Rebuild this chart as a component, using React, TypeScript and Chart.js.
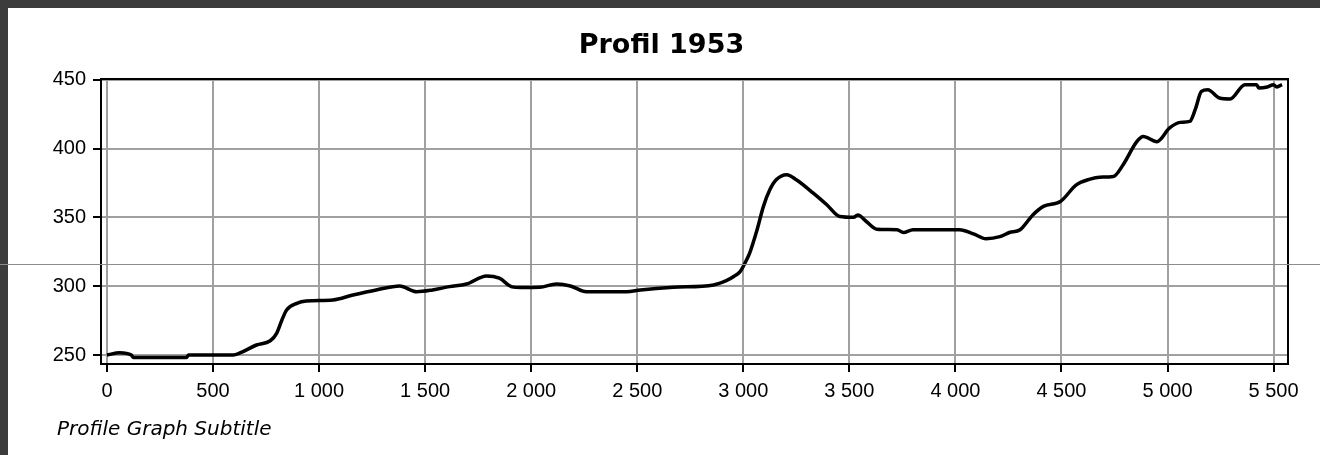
import React, { useEffect, useRef } from "react";
import { Chart, registerables } from "chart.js";

Chart.register(...registerables);

const titleText = "Profil 1953";
const subtitleText = "Profile Graph Subtitle";

const distances = [
  0, 60, 115, 125, 375, 385, 595, 630, 705, 770, 800, 825, 847, 895, 940, 1065,
  1160, 1270, 1380, 1460, 1535, 1615, 1695, 1790, 1850, 1910, 1950, 2040, 2120,
  2185, 2260, 2450, 2515, 2670, 2860, 2920, 2955, 2985, 3015, 3030, 3065, 3095,
  3125, 3155, 3205, 3250, 3330, 3395, 3455, 3520, 3540, 3580, 3630, 3725, 3755,
  3800, 4020, 4085, 4145, 4210, 4255, 4305, 4365, 4415, 4495, 4570, 4635, 4680,
  4745, 4790, 4855, 4885, 4950, 5010, 5060, 5105, 5130, 5160, 5190, 5245, 5295,
  5365, 5420, 5430, 5470, 5500, 5515, 5540,
];

const elevations = [
  250, 251.7, 250, 248.3, 248.3, 250, 250, 251.7, 257.3, 260.4, 265.8, 275.5,
  282.7, 287.6, 289.3, 290, 293.6, 297.3, 300.2, 296, 297.3, 299.7, 301.6, 307.5,
  305.8, 299.5, 299, 299.2, 301.6, 300.2, 296, 296, 297.3, 299.2, 300.9, 304, 307,
  310.6, 319, 324, 341, 358, 370, 377.3, 381, 377.3, 367.6, 359, 350.6, 350,
  351.8, 347, 341.4, 341, 339, 341, 341, 338, 334.5, 336, 339, 341, 351.8, 358,
  361.5, 373.6, 377.8, 379.2, 379.7, 388, 405, 408.8, 405, 415, 419, 419.7, 428,
  441.5, 442.7, 436.7, 436, 446.4, 446.4, 444, 444.7, 446.4, 444.7, 446.4,
];

const xTicks = [0, 500, 1000, 1500, 2000, 2500, 3000, 3500, 4000, 4500, 5000, 5500];
const yTicks = [250, 300, 350, 400, 450];

const fmt = (v: number) => String(v).replace(/\B(?=(\d{3})+(?!\d))/g, " ");
const tickFont = { family: '"Liberation Sans", Arial, sans-serif', size: 20 };

export default function App() {
  const canvasRef = useRef<HTMLCanvasElement | null>(null);

  useEffect(() => {
    document.body.style.margin = "0";
    document.body.style.background = "#3c3c3c";
    document.body.style.overflow = "hidden";
    const canvas = canvasRef.current;
    if (!canvas) return;

    const framePlugin = {
      id: "frameAndSubtitle",
      afterDraw(chart: any) {
        const { ctx, chartArea } = chart;
        ctx.save();
        ctx.strokeStyle = "#000";
        ctx.lineWidth = 2;
        ctx.strokeRect(chartArea.left, chartArea.top, chartArea.right - chartArea.left, chartArea.bottom - chartArea.top);
        ctx.fillStyle = "#000";
        ctx.font = 'italic 20px "DejaVu Sans", sans-serif';
        ctx.textBaseline = "middle";
        ctx.textAlign = "left";
        ctx.fillText(subtitleText, 49, 422);
        ctx.restore();
      },
    };

    const chart = new Chart(canvas, {
      type: "line",
      data: {
        datasets: [
          {
            data: distances.map((d, i) => ({ x: d, y: elevations[i] })),
            borderColor: "#000",
            borderWidth: 3.5,
            pointRadius: 0,
            cubicInterpolationMode: "monotone",
            fill: false,
            yAxisID: "y",
          },
        ],
      },
      options: {
        animation: false,
        responsive: false,
        layout: { padding: { top: 0, left: 0, right: 5, bottom: 51 } },
        plugins: {
          legend: { display: false },
          tooltip: { enabled: false },
          title: {
            display: true,
            text: titleText,
            color: "#000",
            font: { family: '"DejaVu Sans", sans-serif', size: 27, weight: "bold" },
            padding: { top: 21.8, bottom: 16.8 },
          },
        },
        scales: {
          x: {
            type: "linear",
            min: -28,
            max: 5568,
            afterBuildTicks: (s: any) => {
              s.ticks = xTicks.map((v) => ({ value: v }));
            },
            afterFit: (s: any) => {
              s.height = 40;
            },
            ticks: {
              autoSkip: false,
              maxRotation: 0,
              color: "#000",
              padding: 7,
              font: tickFont,
              callback: (v: any) => fmt(Number(v)),
            },
            grid: {
              color: "#a0a0a0",
              lineWidth: 2,
              tickColor: "#000",
              tickLength: 8,
              tickWidth: 2,
            },
            border: { color: "#000", width: 2 },
          },
          y: {
            type: "linear",
            position: "left",
            min: 243.5,
            max: 450.5,
            afterBuildTicks: (s: any) => {
              s.ticks = yTicks.map((v) => ({ value: v }));
            },
            afterFit: (s: any) => {
              s.width = 93;
            },
            ticks: {
              color: "#000",
              padding: 7,
              font: tickFont,
              callback: (v: any) => fmt(Number(v)),
            },
            grid: {
              color: "#a0a0a0",
              lineWidth: 2,
              tickColor: "#000",
              tickLength: 8,
              tickWidth: 2,
            },
            border: { color: "#000", width: 2 },
          },
          yRight: {
            type: "linear",
            position: "right",
            display: true,
            min: 243.5,
            max: 450.5,
            ticks: { display: false },
            grid: { display: false, drawTicks: false },
            border: { display: false },
            afterFit: (s: any) => {
              s.width = 27;
            },
          },
        },
      },
      plugins: [framePlugin],
    } as any);

    return () => chart.destroy();
  }, []);

  return (
    <div style={{ position: "relative", width: 1320, height: 455, background: "#3c3c3c", overflow: "hidden" }}>
      <div style={{ position: "absolute", left: 8, top: 8, width: 1312, height: 447, background: "#fff" }}>
        <canvas ref={canvasRef} width={1312} height={447} style={{ display: "block", width: 1312, height: 447 }} />
      </div>
      <div style={{ position: "absolute", left: 0, top: 264, width: 1320, height: 1, background: "#8c8c8c" }} />
    </div>
  );
}
